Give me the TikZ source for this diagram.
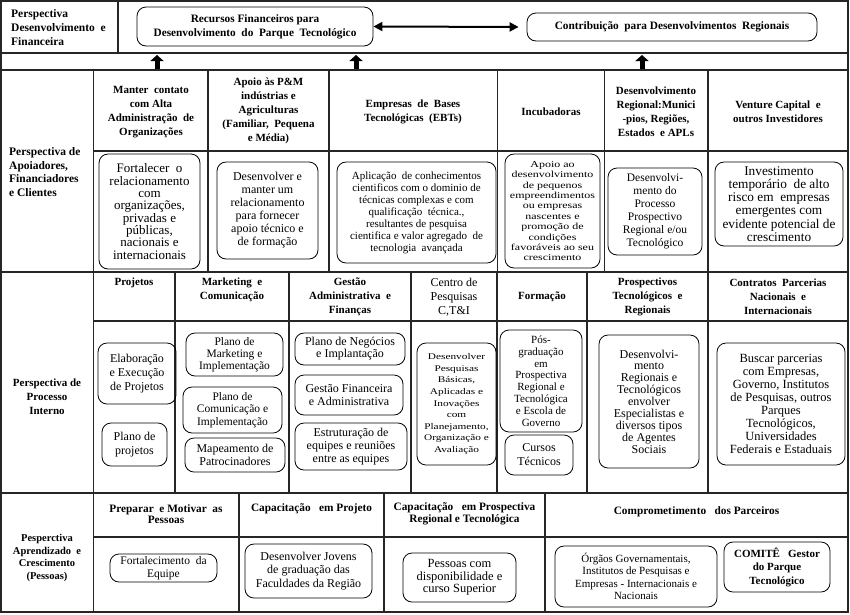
\documentclass[tikz,border=0pt]{standalone}
\usepackage{fontspec}
\setmainfont{Liberation Serif}
\newfontfamily\wideserif[FakeStretch=1.3]{Liberation Serif}
\usetikzlibrary{arrows.meta}
\newcommand\setfs[2]{\fontsize{#1}{#2}\selectfont}
\begin{document}
\begin{tikzpicture}[x=1pt,y=-1pt,
  grid/.style={line width=1.1pt, draw=black!85},
  rbox/.style={draw, line width=0.8pt, rounded corners=9pt, align=center, inner sep=1pt},
  hd/.style={align=center, inner sep=0pt, font=\bfseries\setfs{11}{14}},
  uparrow/.style={line width=5pt, -{Triangle[length=6pt,width=13pt]}},
  dblarrow/.style={line width=2pt, {Triangle[length=9pt,width=9pt]}-{Triangle[length=9pt,width=9pt]}}
]
\useasboundingbox (0,0) rectangle (850,614);
% ---------- grid ----------
\draw[grid] (1,1) rectangle (848,612);
\draw[grid] (1,53) -- (848,53);
\draw[grid] (1,70) -- (848,70);
\draw[grid] (118,1) -- (118,53);
\draw[grid] (93.5,70) -- (93.5,612);
\draw[grid] (93.5,151) -- (848,151);
\draw[grid] (1,272) -- (848,272);
\draw[grid] (93.5,321) -- (848,321);
\draw[grid] (1,493) -- (848,493);
\draw[grid] (93.5,537) -- (848,537);
\foreach \x in {208,329,497.5,604.5,708} \draw[grid] (\x,70) -- (\x,272);
\foreach \x in {175,289,411,497,587,708} \draw[grid] (\x,272) -- (\x,493);
\foreach \x in {239,384,545} \draw[grid] (\x,493) -- (\x,612);

% ---------- row 1 ----------
\node[hd, anchor=west, align=left, font=\bfseries\setfs{11.5}{14}] (l1) at (11,28) {Perspectiva\\Desenvolvimento\ \ e\\Financeira};
\node[rbox, minimum width=236, minimum height=39, font=\bfseries\setfs{11.3}{14}] (R) at (255,26.5) {Recursos Financeiros para\\Desenvolvimento\ \ do\ \ Parque\ \ Tecnológico};
\node[rbox, minimum width=290, minimum height=28, font=\bfseries\setfs{11.3}{14}] (C) at (672,27) {Contribuição\ \ para Desenvolvimentos\ \ Regionais};
\draw[dblarrow, shorten >=8pt] (R.east) -- (C.west);

\coordinate (u1s) at (157,69); \coordinate (u1e) at (157,55);
\coordinate (u2s) at (356,69); \coordinate (u2e) at (356,55);
\coordinate (u3s) at (642,69); \coordinate (u3e) at (642,55);
\draw[uparrow] (u1s) -- (u1e);
\draw[uparrow] (u2s) -- (u2e);
\draw[uparrow] (u3s) -- (u3e);

% ---------- row 2 ----------
\node[hd, anchor=west, align=left, font=\bfseries\setfs{11.5}{13.7}] (l2) at (9,172) {Perspectiva de\\Apoiadores,\\Financiadores\\e Clientes};
\node[hd] (h21) at (151,112) {Manter\ \ contato\\com Alta\\Administração\ \ de\\Organizações};
\node[hd] (h22) at (268.5,111) {Apoio\ às P\&M\\indústrias e\\Agriculturas\\(Familiar,\ \ Pequena\\e Média)};
\node[hd] (h23) at (413,112) {Empresas\ \ de\ \ Bases\\Tecnológicas\ \ (EBTs)};
\node[hd] (h24) at (551,112) {Incubadoras};
\node[hd] (h25) at (656,112) {Desenvolvimento\\Regional:Munici\\-pios, Regiões,\\Estados\ \ e APLs};
\node[hd] (h26) at (778,112) {Venture Capital\ \ e\\outros Investidores};

\node[rbox, minimum width=101, minimum height=115, font=\setfs{13}{12.3}] (b21) at (149.5,211.5) {Fortalecer\ \ o\\relacionamento\\com\\organizações,\\privadas e\\públicas,\\nacionais e\\internacionais};
\node[rbox, minimum width=101, minimum height=97, font=\setfs{12}{13}] (b22) at (267.5,210.5) {Desenvolver e\\manter um\\relacionamento\\para fornecer\\apoio técnico e\\de formação};
\node[rbox, minimum width=159, minimum height=101, font=\setfs{11}{12}] (b23) at (416.5,212.5) {Aplicação\ \ de conhecimentos\\cientificos com o dominio de\\técnicas complexas e com\\qualificação\ \ técnica.,\\resultantes de pesquisa\\cientifica e valor agregado\ \ de\\tecnologia\ \ avançada};
\node[rbox, minimum width=95, minimum height=114, font=\wideserif\setfs{9.2}{10.4}] (b24) at (552.5,211) {Apoio ao\\desenvolvimento\\de pequenos\\empreendimentos\\ou empresas\\nascentes e\\promoção de\\condições\\favoráveis ao seu\\crescimento};
\node[rbox, minimum width=94, minimum height=87, font=\setfs{11.5}{13}] (b25) at (655,211.5) {Desenvolvi-\\mento do\\Processo\\Prospectivo\\Regional e/ou\\Tecnológico};
\node[rbox, minimum width=128, minimum height=84, font=\setfs{13.3}{13.2}] (b26) at (779,204) {Investimento\\temporário\ \ de alto\\risco em\ \ empresas\\emergentes com\\evidente potencial de\\crescimento};

% ---------- row 3 ----------
\node[hd, font=\bfseries\setfs{11}{14}] (l3) at (47,397) {Perspectiva de\\Processo\\Interno};
\node[hd] (h31) at (134,283) {Projetos};
\node[hd] (h32) at (232,290) {Marketing\ \ e\\Comunicação};
\node[hd] (h33) at (350,297) {Gestão\\Administrativa\ \ e\\Finanças};
\node[hd, font=\setfs{12}{14}] (h34) at (454,297) {Centro de\\Pesquisas\\C,T\&I};
\node[hd] (h35) at (542,297) {Formação};
\node[hd] (h36) at (647.5,297) {Prospectivos\\Tecnológicos\ \ e\\Regionais};
\node[hd] (h37) at (778,297) {Contratos\ \ Parcerias\\Nacionais\ \ e\\Internacionais};

\node[rbox, minimum width=78, minimum height=61, font=\setfs{12}{14}] (b31) at (137,373.5) {Elaboração\\e Execução\\de Projetos};
\node[rbox, minimum width=65, minimum height=43, font=\setfs{12}{13.5}] (b32) at (134.5,444.5) {Plano de\\projetos};
\node[rbox, minimum width=97, minimum height=43, font=\setfs{11.5}{12}] (b33) at (234.5,354.5) {Plano de\\Marketing e\\Implementação};
\node[rbox, minimum width=99, minimum height=46, font=\setfs{11.5}{12.5}] (b34) at (232.5,410) {Plano de\\Comunicação e\\Implementação};
\node[rbox, minimum width=100, minimum height=34, font=\setfs{12}{12.5}] (b35) at (235,455) {Mapeamento de\\Patrocinadores};
\node[rbox, minimum width=110, minimum height=32, font=\setfs{12}{12}] (b36) at (350,349) {Plano de Negócios\\e Implantação};
\node[rbox, minimum width=108, minimum height=40, font=\setfs{12}{13}] (b37) at (349,395) {Gestão Financeira\\e Administrativa};
\node[rbox, minimum width=112, minimum height=47, font=\setfs{12}{13}] (b38) at (351,446.5) {Estruturação de\\equipes e reuniões\\entre as equipes};
\node[rbox, minimum width=79, minimum height=122, font=\wideserif\setfs{8.7}{11.6}] (b39) at (456.5,404) {Desenvolver\\Pesquisas\\Básicas,\\Aplicadas e\\Inovações\\com\\Planejamento,\\Organização e\\Avaliação};
\node[rbox, minimum width=82, minimum height=102, font=\setfs{11}{11.8}] (b310) at (541,381) {Pós-\\graduação\\em\\Prospectiva\\Regional\ e\\Tecnológica\\e Escola de\\Governo};
\node[rbox, minimum width=68, minimum height=40, font=\setfs{12}{14}] (b311) at (539,455) {Cursos\\Técnicos};
\node[rbox, minimum width=100, minimum height=133, font=\setfs{12}{11.9}] (b312) at (649,401.5) {Desenvolvi-\\mento\\Regionais e\\Tecnológicos\\envolver\\Especialistas e\\diversos tipos\\de Agentes\\Sociais};
\node[rbox, minimum width=128, minimum height=122, font=\setfs{12.5}{12.9}] (b313) at (781,404) {Buscar parcerias\\com Empresas,\\Governo, Institutos\\de Pesquisas, outros\\Parques\\Tecnológicos,\\Universidades\\Federais e Estaduais};

% ---------- row 4 ----------
\node[hd, font=\bfseries\setfs{10.5}{12.7}] (l4) at (47,558) {Pesperctiva\\Aprendizado\ \ e\\Crescimento\\(Pessoas)};
\node[hd, font=\bfseries\setfs{11.3}{11.5}] (h41) at (166,514) {Preparar\ \ e Motivar\ \ as\\Pessoas};
\node[hd, font=\bfseries\setfs{11.3}{11.5}] (h42) at (311.5,509) {Capacitação\ \ \ em Projeto};
\node[hd, font=\bfseries\setfs{11.3}{11.5}] (h43) at (464.5,514) {Capacitação\ \ \ em Prospectiva\\Regional\ e Tecnológica};
\node[hd, font=\bfseries\setfs{11.3}{11.5}] (h44) at (696.5,512) {Compromet\kern0.5pt imen\kern0.5pt to\ \ \ dos Parceiros};

\node[rbox, minimum width=107, minimum height=28, font=\setfs{11.5}{13}] (b41) at (163.5,568) {Fortalecimento\ \ da\\Equipe};
\node[rbox, minimum width=127, minimum height=54, font=\setfs{12}{13.3}] (b42) at (308.5,571) {Desenvolver Jovens\\de graduação das\\Faculdades da Região};
\node[rbox, minimum width=113, minimum height=49, font=\setfs{12.5}{12.5}] (b43) at (459.5,577.5) {Pessoas com\\disponibilidade e\\curso Superior};
\node[rbox, minimum width=162, minimum height=61, font=\setfs{11}{12.5}] (b44) at (636,576.5) {Órgãos Governamentais,\\Institutos de Pesquisas e\\Empresas - Internacionais e\\Nacionais};
\node[rbox, minimum width=106, minimum height=50, font=\bfseries\setfs{11}{13.5}] (b45) at (777,567) {COMITÊ\ \ \ Gestor\\do Parque\\Tecnológico};
\end{tikzpicture}
\end{document}
